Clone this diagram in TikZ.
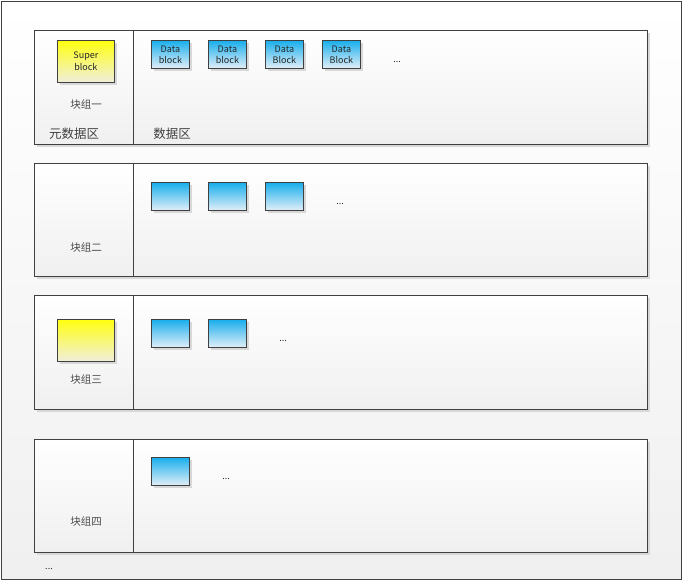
\documentclass[tikz,border=0pt]{standalone}
\usepackage{fontspec}
\setmainfont{Noto Sans CJK SC}
\usetikzlibrary{shadows}
\definecolor{edge}{HTML}{404040}
\definecolor{bluetop}{HTML}{19AEEC}
\definecolor{bluebot}{HTML}{E2EFF8}
\definecolor{yeltop}{HTML}{FFFF10}
\definecolor{yelbot}{HTML}{F0EEDC}
\definecolor{shad}{HTML}{D8D8D8}
\tikzset{
  rowbox/.style={draw=edge, line width=0.9pt, top color=white, bottom color=black!6, minimum width=613pt, inner sep=0pt, anchor=north west, drop shadow={shadow xshift=3pt, shadow yshift=-3pt, fill=shad, opacity=1}},
  dblock/.style={draw=edge, line width=0.8pt, top color=bluetop, bottom color=bluebot, minimum width=38pt, minimum height=28pt, inner sep=0pt, anchor=north west, font=\fontsize{9}{11}\selectfont, align=center, text=black!85, drop shadow={shadow xshift=2.5pt, shadow yshift=-2.5pt, fill=shad, opacity=1}},
  sblock/.style={draw=edge, line width=0.8pt, top color=yeltop, bottom color=yelbot, minimum width=57pt, minimum height=42pt, inner sep=0pt, anchor=north west, font=\fontsize{9}{11.5}\selectfont, align=center, text=black!85, drop shadow={shadow xshift=3pt, shadow yshift=-3pt, fill=shad, opacity=1}},
  lbl/.style={font=\fontsize{10.5}{11}\selectfont, text=black!70},
  big/.style={font=\fontsize{12.5}{13}\selectfont, text=black!75},
  dots/.style={font=\fontsize{9}{10}\selectfont, text=black!85}
}
\begin{document}
\begin{tikzpicture}[x=1pt,y=-1pt]
\useasboundingbox (0,0) rectangle (684,582);
\fill[white] (0,0) rectangle (684,582);
\node[draw=edge, line width=0.9pt, top color=white, bottom color=black!6, minimum width=680pt, minimum height=578pt, inner sep=0pt, anchor=north west] (outer) at (1,1) {};
% rows
\node[rowbox, minimum height=114pt] (r1) at (34,30) {};
\node[rowbox, minimum height=113pt] (r2) at (34,163) {};
\node[rowbox, minimum height=114pt] (r3) at (34,295) {};
\node[rowbox, minimum height=113pt] (r4) at (34,439) {};
\foreach \r in {r1,r2,r3,r4}{
  \draw[edge, line width=0.9pt] ([xshift=99pt]\r.north west) -- ([xshift=99pt]\r.south west);
}
% row 1
\node[sblock] (s1) at (57,40) {Super\\block};
\node[dblock] (d11) at (151,40) {Data\\block};
\node[dblock] (d12) at (208,40) {Data\\block};
\node[dblock] (d13) at (265,40) {Data\\Block};
\node[dblock] (d14) at (322,40) {Data\\Block};
\node[dots] (e1) at (397,62) {...};
\node[lbl] (g1) at (86,105) {块组一};
\node[big] (m1) at (74,134) {元数据区};
\node[big] (m2) at (172,134) {数据区};
% row 2
\node[dblock] (d21) at (151,182) {};
\node[dblock] (d22) at (208,182) {};
\node[dblock] (d23) at (265,182) {};
\node[dots] (e2) at (340,204) {...};
\node[lbl] (g2) at (86,248) {块组二};
% row 3
\node[sblock] (s3) at (57,319) {};
\node[dblock] (d31) at (151,319) {};
\node[dblock] (d32) at (208,319) {};
\node[dots] (e3) at (283,341) {...};
\node[lbl] (g3) at (86,380) {块组三};
% row 4
\node[dblock] (d41) at (151,457) {};
\node[dots] (e4) at (226,479) {...};
\node[lbl] (g4) at (86,522) {块组四};
\node[dots] (e5) at (49,569) {...};
\end{tikzpicture}
\end{document}
